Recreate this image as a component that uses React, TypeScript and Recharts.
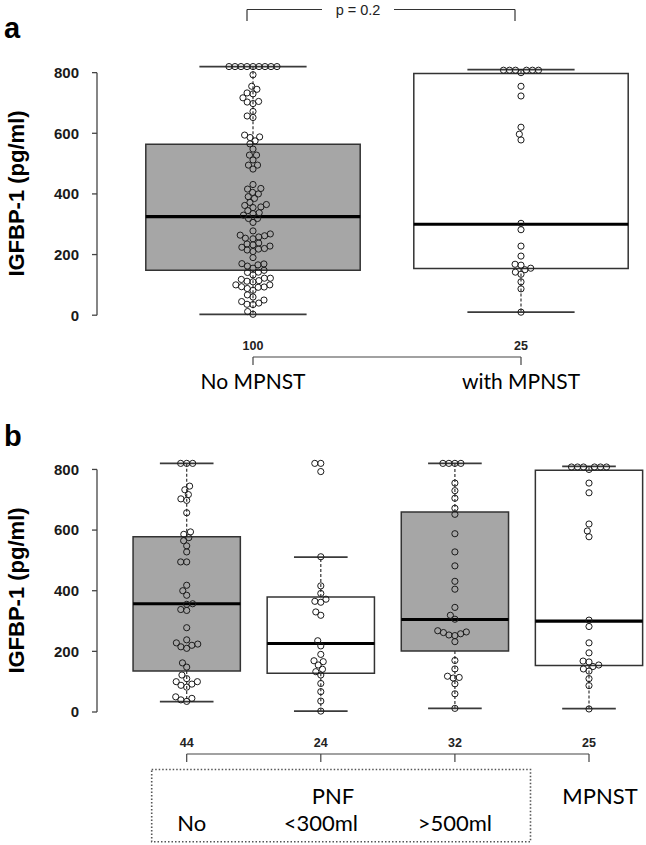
import React from 'react';
import { ComposedChart, XAxis, YAxis, Scatter, ReferenceArea, ReferenceLine } from 'recharts';

// IGFBP-1 (pg/ml) per patient, panel b groups
const noPnf = [820, 820, 820, 745, 733, 717, 703, 698, 657, 594, 586, 575, 565, 548, 528, 495, 495,
  418, 400, 385, 357, 355, 338, 335, 278, 238, 228, 224, 220, 215, 210, 162, 148,
  122, 110, 100, 100, 92, 88, 82, 50, 45, 40, 35];
const smallPnf = [820, 820, 793, 512, 416, 391, 372, 365, 362, 330, 319, 235, 218, 190, 169, 166,
  155, 141, 133, 122, 94, 67, 36, 3];
const largePnf = [820, 820, 820, 820, 755, 730, 705, 672, 652, 588, 528, 482, 431, 405, 345, 319,
  306, 268, 264, 262, 258, 254, 252, 232, 170, 142, 118, 114, 112, 93, 60, 12];
const mpnst = [808, 808, 808, 808, 808, 808, 800, 755, 723, 620, 597, 578, 303, 282, 228, 195,
  168, 165, 155, 150, 142, 135, 110, 87, 10];

// panel a: everyone without MPNST vs with
const noMpnst = [...noPnf, ...smallPnf, ...largePnf];

const countsA = [100, 25];
const namesA = ['No MPNST', 'with MPNST'];
const countsB = [44, 24, 32, 25];
const namesB = ['No', '<300ml', '>500ml', 'MPNST'];

// box statistics as drawn
const q1A = [148, 154];
const medA = [325, 300];
const q3A = [564, 797];
const loA = [3, 10];
const hiA = [820, 810];

const q1B = [135, 128, 201, 153];
const medB = [357, 226, 305, 300];
const q3B = [578, 379, 660, 797];
const loB = [34, 3, 12, 11];
const hiB = [820, 511, 820, 810];

const yTicks = [0, 200, 400, 600, 800];

const GRAY = '#a6a6a6';
const W = 646;
const AXIS_X = 97;
const PX = 0.3032; // px per pg/ml
const DOT_GAP = 6;
const BOX_HALF = 0.4;
const CAP_HALF = 0.2;

const tickFont = '"Liberation Sans Narrow", "Liberation Sans", Arial, sans-serif';
const labelFont = 'Lato, "Open Sans", sans-serif';

function geom(h: number, zero: number, c1: number, step: number) {
  const xMin = 1 - (c1 - AXIS_X) / step;
  return {
    xMin,
    xMax: xMin + (W - AXIS_X) / step,
    yMin: (zero - h) / PX,
    yMax: zero / PX,
    px: (u: number) => c1 + (u - 1) * step,
  };
}

// simple swarm: place points low to high, nearest free spot to the centre line
function swarm(values: number[], center: number, step: number) {
  const order = values.map((_, i) => i).sort((a, b) => values[a] - values[b]);
  const placed: { x: number; y: number }[] = [];
  const out: { x: number; y: number }[] = new Array(values.length);
  for (const i of order) {
    const y = values[i] * PX;
    const near = placed.filter(p => Math.abs(p.y - y) < DOT_GAP);
    const cands = [0];
    near.forEach(p => {
      const dx = Math.sqrt(DOT_GAP * DOT_GAP - (p.y - y) * (p.y - y));
      cands.push(p.x + dx, p.x - dx);
    });
    const ok = cands.filter(c => near.every(p => (p.x - c) ** 2 + (p.y - y) ** 2 >= DOT_GAP * DOT_GAP - 1e-6));
    ok.sort((a, b) => Math.abs(a) - Math.abs(b) || a - b);
    placed.push({ x: ok[0], y });
    out[i] = { x: center + ok[0] / step, y: values[i] };
  }
  return out;
}

const Dot = (props: any) => (
  <circle cx={props.cx} cy={props.cy} r={3.1} fill="none" stroke="#1c1c1c" strokeWidth={1} />
);

function BoxPanel({ groups, q1, med, q3, lo, hi, fills, h, zero, c1, step }: any) {
  const g = geom(h, zero, c1, step);
  const pts = groups.flatMap((vals: number[], i: number) => swarm(vals, i + 1, step));
  return (
    <ComposedChart width={W} height={h} margin={{ top: 0, right: 0, bottom: 0, left: 0 }}>
      <XAxis type="number" dataKey="x" domain={[g.xMin, g.xMax]} hide allowDataOverflow />
      <YAxis
        type="number"
        dataKey="y"
        domain={[g.yMin, g.yMax]}
        allowDataOverflow
        ticks={yTicks}
        interval={0}
        width={AXIS_X}
        axisLine={false}
        tickSize={5}
        tickMargin={13}
        tickLine={{ stroke: '#444', strokeWidth: 1.3 }}
        tick={{ fill: '#1a1a1a', fontSize: 15, fontWeight: 'bold', fontFamily: tickFont }}
      />
      <ReferenceLine segment={[{ x: g.xMin, y: 0 }, { x: g.xMin, y: 800 }]} stroke="#444" strokeWidth={1.3} />
      {q1.map((_: number, i: number) => {
        const c = i + 1;
        return (
          <React.Fragment key={i}>
            <ReferenceLine segment={[{ x: c, y: q3[i] }, { x: c, y: hi[i] }]} stroke="#333" strokeWidth={1.2} strokeDasharray="3 2" />
            <ReferenceLine segment={[{ x: c, y: q1[i] }, { x: c, y: lo[i] }]} stroke="#333" strokeWidth={1.2} strokeDasharray="3 2" />
            <ReferenceLine segment={[{ x: c - CAP_HALF, y: hi[i] }, { x: c + CAP_HALF, y: hi[i] }]} stroke="#3a3a3a" strokeWidth={1.7} />
            <ReferenceLine segment={[{ x: c - CAP_HALF, y: lo[i] }, { x: c + CAP_HALF, y: lo[i] }]} stroke="#3a3a3a" strokeWidth={1.7} />
            <ReferenceArea x1={c - BOX_HALF} x2={c + BOX_HALF} y1={q1[i]} y2={q3[i]} fill={fills[i]} fillOpacity={1} stroke="#333" strokeWidth={1.5} />
            <ReferenceLine segment={[{ x: c - BOX_HALF, y: med[i] }, { x: c + BOX_HALF, y: med[i] }]} stroke="#000" strokeWidth={3.2} />
          </React.Fragment>
        );
      })}
      <Scatter data={pts} shape={Dot} isAnimationActive={false} />
    </ComposedChart>
  );
}

const A = { h: 400, zero: 315.2, c1: 253, step: 268 };
const B = { h: 445, zero: 312, c1: 186.7, step: 134.1, top: 400 };

export default function App() {
  const ga = geom(A.h, A.zero, A.c1, A.step);
  const gb = geom(B.h, B.zero, B.c1, B.step);
  const ink = '#222';
  return (
    <div style={{ position: 'absolute', left: 0, top: 0, width: W, height: 845, background: '#fff' }}>
      <div style={{ position: 'absolute', left: 0, top: 0 }}>
        <BoxPanel groups={[noMpnst, mpnst]} q1={q1A} med={medA} q3={q3A} lo={loA} hi={hiA}
          fills={[GRAY, '#fff']} {...A} />
      </div>
      <div style={{ position: 'absolute', left: 0, top: B.top }}>
        <BoxPanel groups={[noPnf, smallPnf, largePnf, mpnst]} q1={q1B} med={medB} q3={q3B} lo={loB} hi={hiB}
          fills={[GRAY, '#fff', GRAY, '#fff']} {...B} />
      </div>
      <svg width={W} height={845} style={{ position: 'absolute', left: 0, top: 0, pointerEvents: 'none' }}>
        <text x={4} y={38} fontSize={29} fontWeight="bold" fontFamily="Liberation Sans, Arial" fill="#000">a</text>
        <text x={4} y={446} fontSize={29} fontWeight="bold" fontFamily="Liberation Sans, Arial" fill="#000">b</text>
        {[193.5, 590.5].map(cy => (
          <text key={cy} transform={`translate(24,${cy}) rotate(-90)`} textAnchor="middle" fontSize={22}
            fontWeight="bold" fontFamily="Liberation Sans, Arial" fill="#000">IGFBP-1 (pg/ml)</text>
        ))}

        {/* p-value bracket */}
        <g stroke="#333" strokeWidth={1.2} fill="none">
          <line x1={ga.px(1) - 6} y1={9.5} x2={322} y2={9.5} />
          <line x1={394} y1={9.5} x2={ga.px(2) - 6} y2={9.5} />
          <line x1={ga.px(1) - 6} y1={9.5} x2={ga.px(1) - 6} y2={21} />
          <line x1={ga.px(2) - 6} y1={9.5} x2={ga.px(2) - 6} y2={21} />
        </g>
        <text x={358} y={14.5} textAnchor="middle" fontSize={14.5} fontFamily={tickFont} fill={ink}>p = 0.2</text>

        {/* panel a group labels */}
        {countsA.map((n, i) => (
          <text key={n} x={ga.px(i + 1)} y={350} textAnchor="middle" fontSize={12.5} fontWeight="bold" fontFamily={tickFont} fill={ink}>{n}</text>
        ))}
        <g stroke="#444" strokeWidth={1.2}>
          <line x1={ga.px(1)} y1={357} x2={ga.px(2)} y2={357} />
          {countsA.map((n, i) => <line key={n} x1={ga.px(i + 1)} y1={357} x2={ga.px(i + 1)} y2={365} />)}
        </g>
        {namesA.map((s, i) => (
          <text key={s} x={ga.px(i + 1)} y={389} textAnchor="middle" fontSize={21} fontFamily={labelFont} fill="#000">{s}</text>
        ))}

        {/* panel b group labels */}
        {countsB.map((n, i) => (
          <text key={i} x={gb.px(i + 1)} y={747} textAnchor="middle" fontSize={12.5} fontWeight="bold" fontFamily={tickFont} fill={ink}>{n}</text>
        ))}
        <g stroke="#444" strokeWidth={1.2}>
          <line x1={gb.px(1)} y1={754} x2={gb.px(4)} y2={754} />
          {countsB.map((n, i) => <line key={i} x1={gb.px(i + 1)} y1={754} x2={gb.px(i + 1)} y2={762} />)}
        </g>
        <rect x={151.7} y={769.5} width={378.8} height={72.2} fill="none" stroke="#555" strokeWidth={1.6} strokeDasharray="1.5 2" />
        <text x={333} y={804} textAnchor="middle" fontSize={22} fontFamily={labelFont} fill="#000">PNF</text>
        <text x={600} y={804} textAnchor="middle" fontSize={22} fontFamily={labelFont} fill="#000">{namesB[3]}</text>
        {namesB.slice(0, 3).map((s, i) => (
          <text key={s} x={gb.px(i + 1) + (i === 0 ? 5 : 0)} y={831} textAnchor="middle" fontSize={22} fontFamily={labelFont} fill="#000">{s}</text>
        ))}
      </svg>
    </div>
  );
}
